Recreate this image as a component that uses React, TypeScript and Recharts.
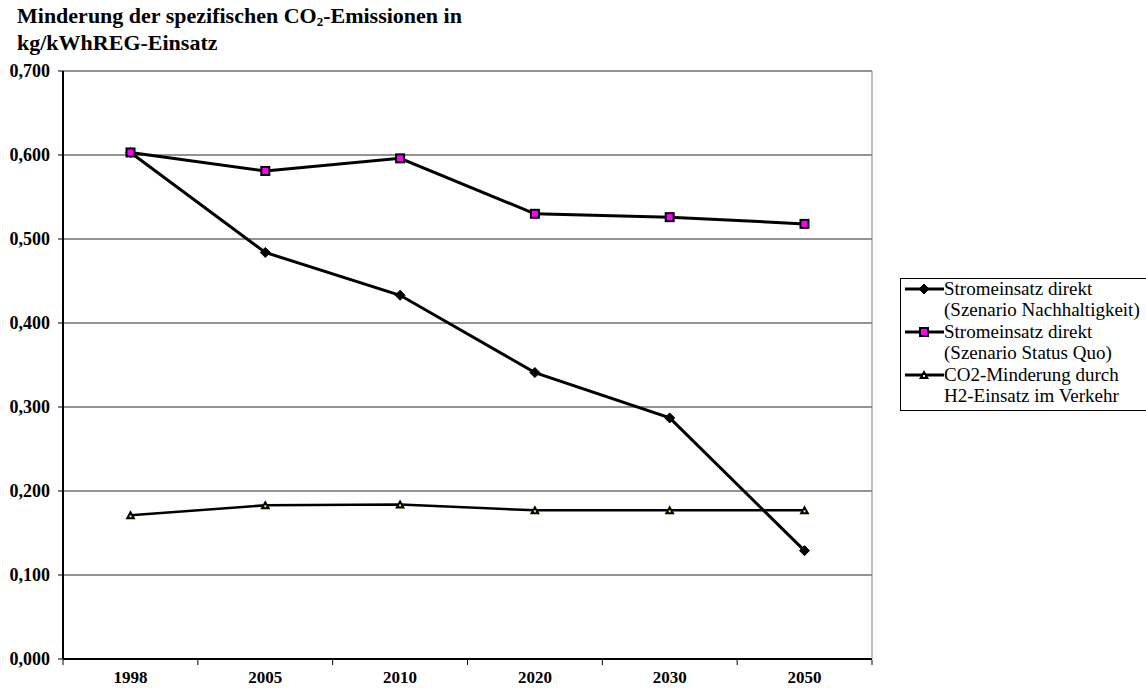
import React from 'react';
import { LineChart, Line, XAxis, YAxis, CartesianGrid } from 'recharts';

const years = ['1998', '2005', '2010', '2020', '2030', '2050'];
const nachhaltigkeit = [0.603, 0.484, 0.433, 0.341, 0.287, 0.129];
const statusQuo = [0.603, 0.581, 0.596, 0.530, 0.526, 0.518];
const co2Verkehr = [0.171, 0.183, 0.184, 0.177, 0.177, 0.177];
const yTicks = [0, 0.1, 0.2, 0.3, 0.4, 0.5, 0.6, 0.7];
const edgeTicks = [0, 1, 2, 3, 4, 5, 6];

const seriesNames = [
  ['Stromeinsatz direkt', '(Szenario Nachhaltigkeit)'],
  ['Stromeinsatz direkt', '(Szenario Status Quo)'],
  ['CO2-Minderung durch', 'H2-Einsatz im Verkehr'],
];

const data = years.map((y, i) => ({
  year: y,
  idx: i + 0.5,
  a: nachhaltigkeit[i],
  b: statusQuo[i],
  c: co2Verkehr[i],
}));

const serif = '"Liberation Serif", "Times New Roman", serif';

const Diamond = (props: any) => {
  const { cx, cy } = props;
  if (cx == null || cy == null) return null;
  return <path d={`M${cx},${cy - 5}L${cx + 5},${cy}L${cx},${cy + 5}L${cx - 5},${cy}Z`} fill="#000" stroke="#000" strokeWidth={1} />;
};

const Square = (props: any) => {
  const { cx, cy } = props;
  if (cx == null || cy == null) return null;
  return <rect x={cx - 4} y={cy - 4} width={8} height={8} fill="#ff00ff" stroke="#000" strokeWidth={2} />;
};

const Triangle = (props: any) => {
  const { cx, cy } = props;
  if (cx == null || cy == null) return null;
  return (
    <g>
      <path d={`M${cx},${cy - 5}L${cx + 5},${cy + 4}L${cx - 5},${cy + 4}Z`} fill="#000" />
      <rect x={cx - 1} y={cy} width={2} height={2} fill="#ffff00" />
    </g>
  );
};

const markers = [Diamond, Square, Triangle];

const LegendBox = () => (
  <div style={{ position: 'absolute', left: 900, top: 278, width: 250, height: 133, boxSizing: 'border-box', border: '1px solid #000', background: '#fff', padding: '0 0 0 3px', fontFamily: serif, fontSize: 19, lineHeight: '21px', color: '#000' }}>
    {seriesNames.map((n, i) => {
      const M = markers[i];
      return (
        <div key={i} style={{ display: 'flex', marginTop: i === 0 ? -1 : 1 }}>
          <svg width={40} height={21} style={{ flex: 'none' }}>
            <line x1={1} y1={11} x2={40} y2={11} stroke="#000" strokeWidth={3} />
            <M cx={20} cy={11} />
          </svg>
          <div style={{ whiteSpace: 'nowrap' }}>
            {n[0]}
            <br />
            {n[1]}
          </div>
        </div>
      );
    })}
  </div>
);

const App: React.FC = () => {
  return (
    <div style={{ position: 'absolute', left: 0, top: 0, width: 1146, height: 688, background: '#fff', overflow: 'hidden' }}>
      <div style={{ position: 'absolute', left: 17, top: 5, fontFamily: serif, fontWeight: 'bold', fontSize: 22, lineHeight: '21px', color: '#000' }}>
        Minderung der spezifischen CO<sub style={{ fontSize: 13, verticalAlign: '-3px' }}>2</sub>-Emissionen in
        <br />
        kg/kWhREG-Einsatz
      </div>
      <LineChart width={1146} height={688} data={data} margin={{ top: 71, right: 273, bottom: 27, left: 0 }}>
        <CartesianGrid vertical={false} stroke="#000" strokeOpacity={0.85} yAxisId="left" xAxisId="cat" />
        <XAxis xAxisId="edges" dataKey="idx" type="number" domain={[0, 6]} ticks={edgeTicks} tickFormatter={() => ''} height={1} axisLine={false} tickSize={5} tickLine={{ stroke: '#000' }} />
        <XAxis xAxisId="cat" dataKey="year" height={1} tickLine={false} padding={{ left: 67.5, right: 67.5 }} axisLine={{ stroke: '#000', strokeWidth: 2 }}
          tick={{ fill: '#000', fontFamily: serif, fontWeight: 'bold', fontSize: 17 }} tickMargin={6} />
        <YAxis yAxisId="left" domain={[0, 0.7]} ticks={yTicks} width={63} tickSize={5} tickMargin={8}
          axisLine={{ stroke: '#000', strokeWidth: 2 }} tickLine={{ stroke: '#000' }}
          tickFormatter={(v: number) => v.toFixed(3).replace('.', ',')}
          tick={{ fill: '#000', fontFamily: serif, fontWeight: 'bold', fontSize: 18 }} />
        <YAxis yAxisId="right" orientation="right" width={1} tick={false} tickLine={false} axisLine={{ stroke: '#808080' }} domain={[0, 0.7]} />
        <Line xAxisId="cat" yAxisId="left" dataKey="a" name="Nachhaltigkeit" stroke="#000" strokeWidth={3} dot={<Diamond />} activeDot={false} isAnimationActive={false} />
        <Line xAxisId="cat" yAxisId="left" dataKey="b" name="Status Quo" stroke="#000" strokeWidth={3} dot={<Square />} activeDot={false} isAnimationActive={false} />
        <Line xAxisId="cat" yAxisId="left" dataKey="c" name="CO2" stroke="#000" strokeWidth={2.5} dot={<Triangle />} activeDot={false} isAnimationActive={false} />
      </LineChart>
      <LegendBox />
    </div>
  );
};

export default App;
